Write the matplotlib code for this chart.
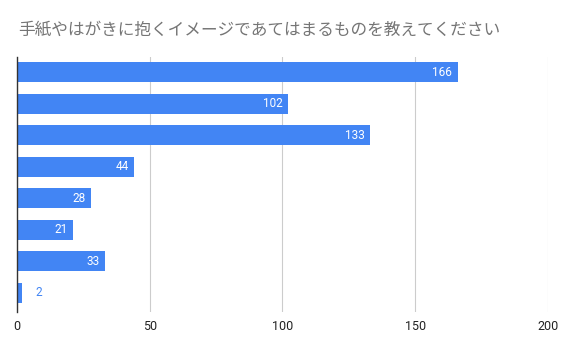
import matplotlib
matplotlib.use("Agg")
import matplotlib.pyplot as plt

plt.rcParams['font.family'] = ['Noto Sans CJK JP', 'DejaVu Sans']

title = "手紙やはがきに抱くイメージであてはまるものを教えてください"
values = [166, 102, 133, 44, 28, 21, 33, 2]
xticks = [0, 50, 100, 150, 200]

bar_color = "#4285F4"

fig = plt.figure(figsize=(5.66, 3.5), dpi=100)
ax = fig.add_axes([0.030, 0.109, 0.938, 0.728])

pos = list(range(len(values)))
ax.barh(pos, values, height=0.63, color=bar_color, zorder=3)

for y, v in zip(pos, values):
    if v > 10:
        ax.text(v - 2, y, str(v), ha="right", va="center", color="white",
                fontsize=8.5, family="Roboto", zorder=4)
    else:
        ax.text(v + 5, y, str(v), ha="left", va="center", color=bar_color,
                fontsize=8.5, family="Roboto", zorder=4)

ax.set_xlim(0, 200)
ax.set_ylim(7.6, -0.48)
ax.set_xticks(xticks)
ax.set_xticklabels([str(t) for t in xticks], family="Roboto", fontsize=9, color="#222222")
ax.set_yticks([])
ax.tick_params(axis="x", length=0, pad=6)
ax.grid(axis="x", color="#cccccc", linewidth=0.8, zorder=0)
for s in ["top", "right", "bottom"]:
    ax.spines[s].set_visible(False)
ax.spines["left"].set_color("#333333")
ax.spines["left"].set_linewidth(1.0)
ax.spines["left"].set_zorder(5)

fig.text(0.032, 0.915, title, fontsize=12, color="#757575", ha="left", va="center")

fig.savefig("out.png", dpi=100)
